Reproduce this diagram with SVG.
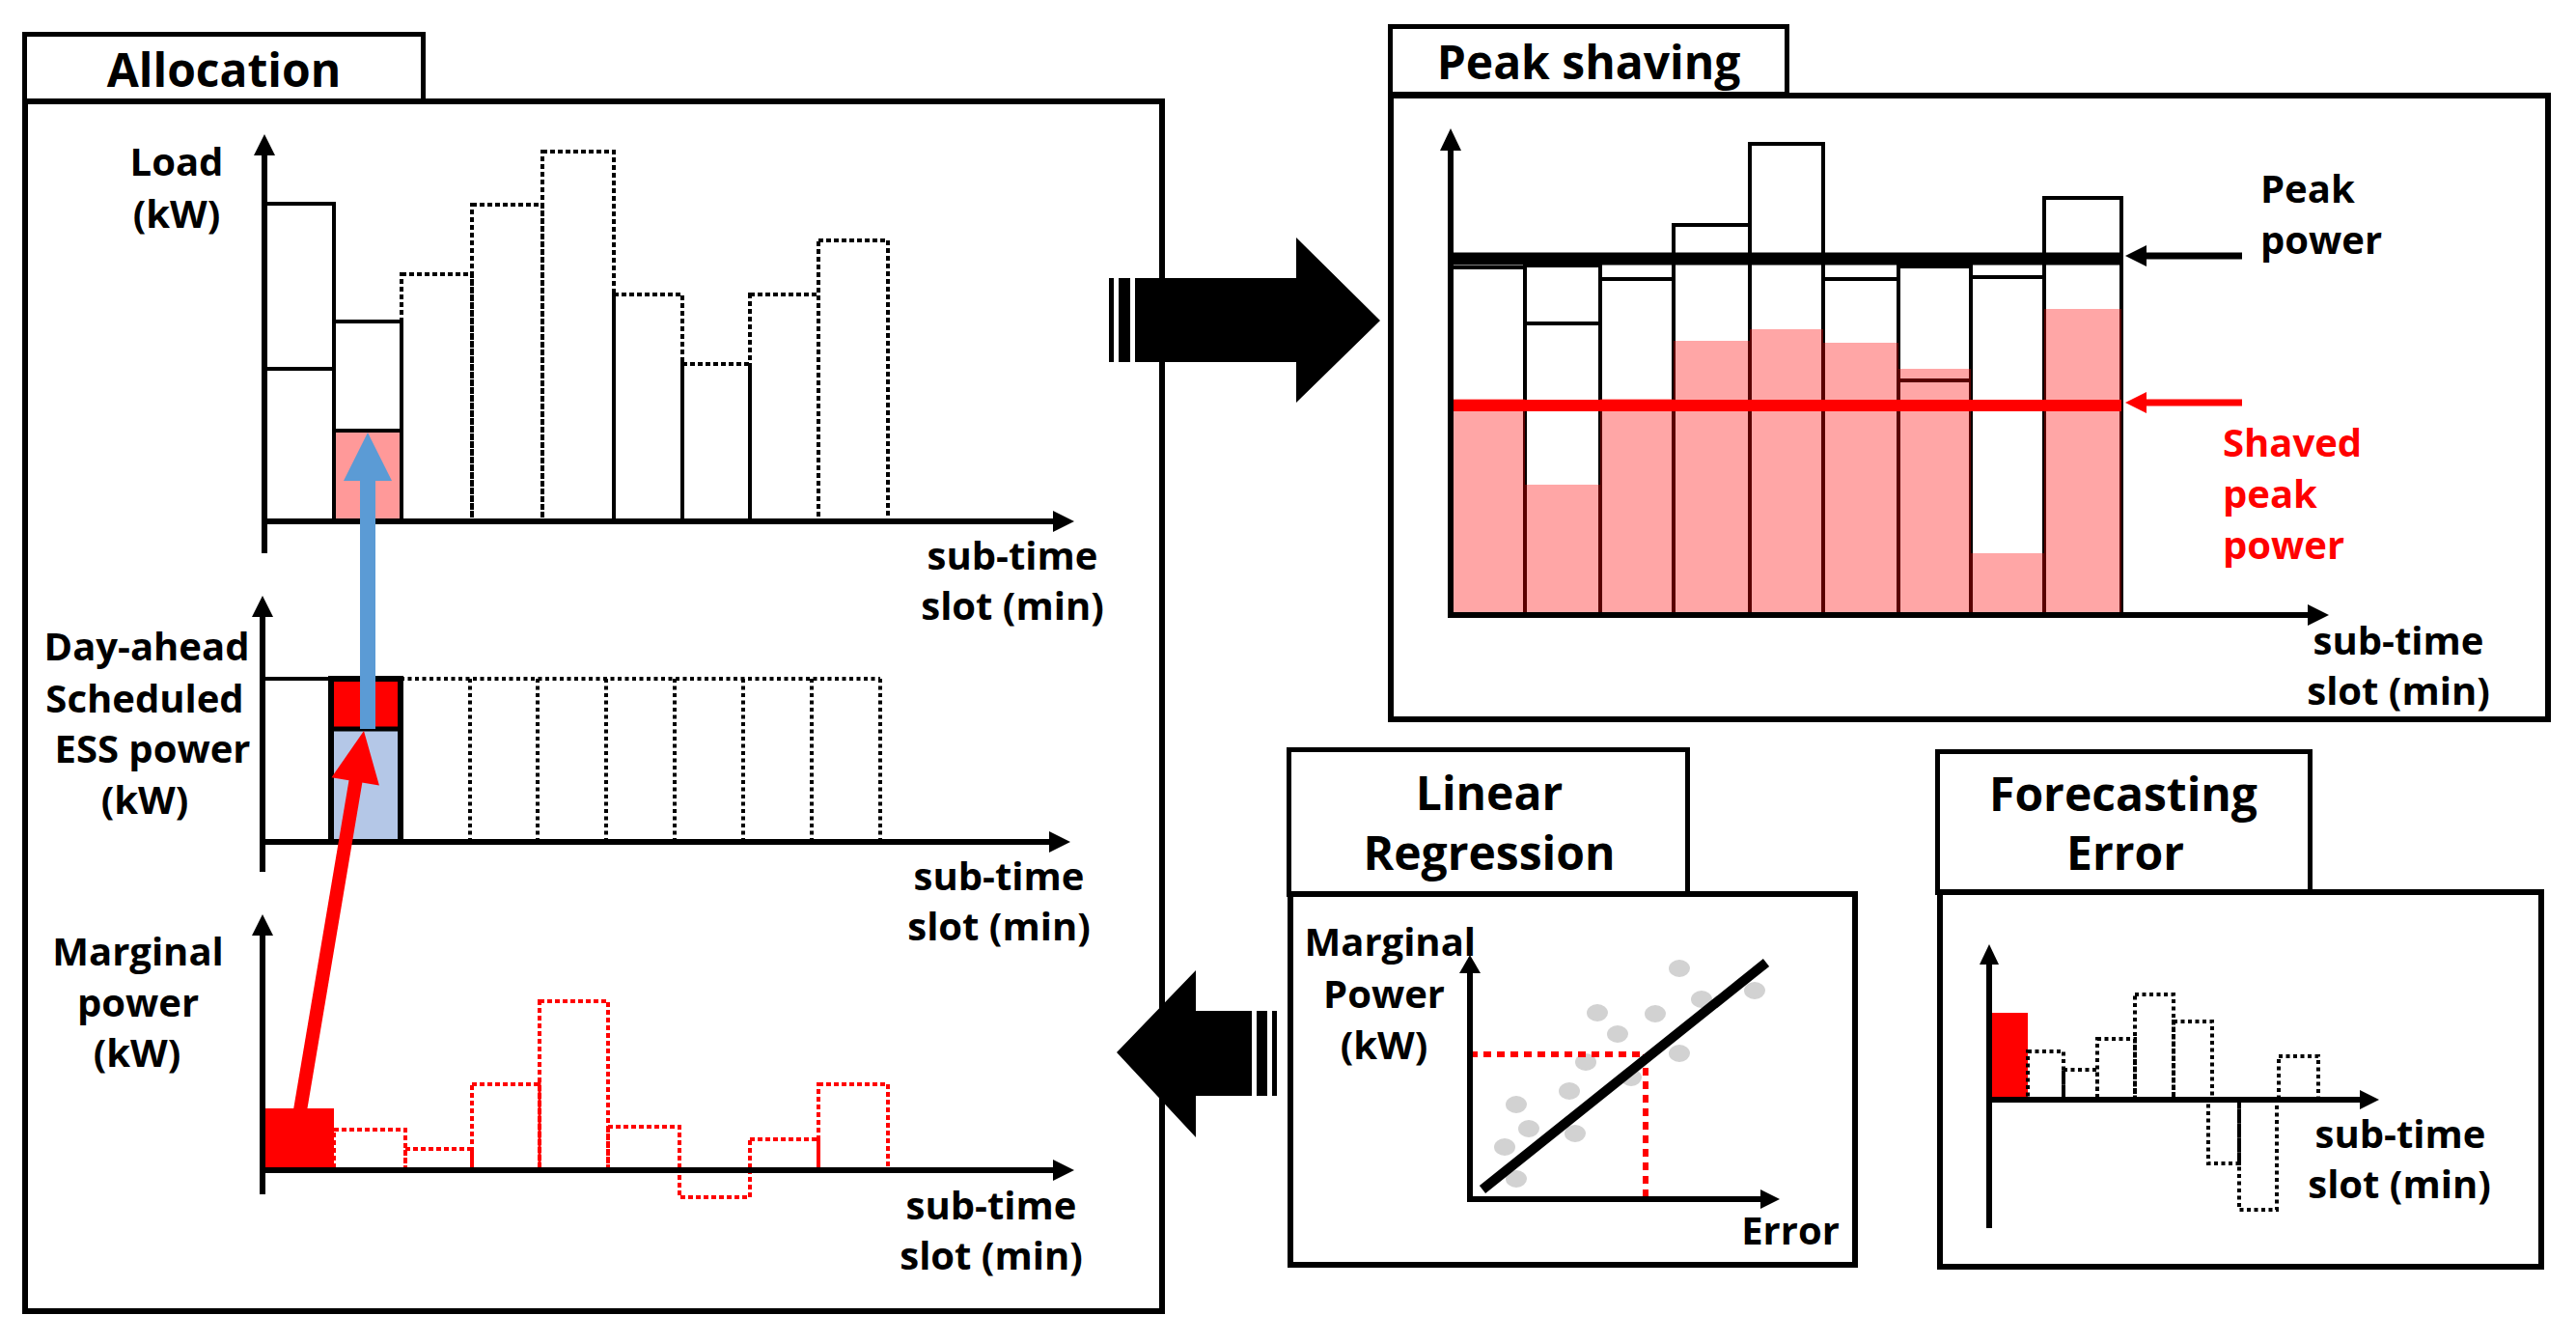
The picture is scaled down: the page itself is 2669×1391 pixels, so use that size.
<svg xmlns="http://www.w3.org/2000/svg" width="2669" height="1391" viewBox="0 0 2669 1391">
<style>
.box{fill:none;stroke:#000;stroke-width:6}
.tab{fill:#fff;stroke:#000;stroke-width:5}
.t{font-family:"Open Sans","Noto Sans","Liberation Sans",sans-serif;font-weight:700;text-anchor:middle;fill:#000}
.s{text-anchor:start}
.red{fill:#f00}
.title{font-size:48px}
.lbl{font-size:40px}
.ax{stroke:#000;stroke-width:6;fill:none}
.bar{fill:none;stroke:#000;stroke-width:4}
.dot{fill:none;stroke:#000;stroke-width:4;stroke-dasharray:5 3}
.dot3{fill:none;stroke:#000;stroke-width:4;stroke-dasharray:4 3.5}
.rdot{fill:none;stroke:#f00;stroke-width:4;stroke-dasharray:5 3}
.ah{fill:#000}
.pink{fill:#f00;fill-opacity:0.35}
.gd{fill:#d2d2d2}
</style>
<rect width="2669" height="1391" fill="#fff"/>

<g id="allocation">
<rect class="tab" x="25.5" y="35.5" width="413" height="70"/>
<text class="t title" x="232" y="90">Allocation</text>
<rect class="box" x="26" y="105" width="1178" height="1253"/>
<!-- Load chart -->
<rect class="bar" x="274" y="211" width="72" height="329"/>
<line class="bar" x1="274" y1="382" x2="346" y2="382"/>
<rect fill="#FF9999" x="346" y="446" width="70" height="94"/>
<rect class="bar" x="346" y="333" width="70" height="207"/>
<line class="bar" x1="346" y1="446" x2="416" y2="446"/>
<rect class="dot" x="416" y="284" width="73" height="256"/>
<rect class="dot" x="489" y="212" width="73" height="328"/>
<rect class="dot" x="562" y="157" width="74" height="383"/>
<rect class="dot" x="636" y="305" width="71" height="235"/>
<rect class="dot" x="707" y="377" width="70" height="163"/>
<rect class="dot" x="777" y="305" width="71" height="235"/>
<rect class="dot" x="848" y="249" width="72" height="291"/>
<line class="ax" x1="274" y1="573" x2="274" y2="158"/>
<polygon class="ah" points="274,139 263,161 285,161"/>
<line class="ax" x1="271" y1="540" x2="1093" y2="540"/>
<polygon class="ah" points="1113,540 1091,529 1091,551"/>
<text class="t lbl" x="183" y="182">Load</text>
<text class="t lbl" x="183" y="236">(kW)</text>
<text class="t lbl" x="1049" y="590">sub-time</text>
<text class="t lbl" x="1049" y="642">slot (min)</text>
<!-- Day-ahead chart -->
<rect fill="#f00" x="343" y="703" width="72" height="52"/>
<rect fill="#B4C7E7" x="343" y="755" width="72" height="117"/>
<line class="bar" x1="272" y1="703" x2="343" y2="703"/>
<path class="dot3" d="M415,703 H912 M487,703 V872 M557,703 V872 M628,703 V872 M699,703 V872 M770,703 V872 M841,703 V872 M912,703 V872"/>
<rect fill="none" stroke="#000" stroke-width="6" x="343" y="703" width="72" height="169"/>
<line stroke="#000" stroke-width="5" x1="343" y1="755" x2="415" y2="755"/>
<line class="ax" x1="272" y1="903" x2="272" y2="636"/>
<polygon class="ah" points="272,617 261,639 283,639"/>
<line class="ax" x1="269" y1="872" x2="1090" y2="872"/>
<polygon class="ah" points="1109,872 1087,861 1087,883"/>
<text class="t lbl" x="152" y="684">Day-ahead</text>
<text class="t lbl" x="150" y="738">Scheduled</text>
<text class="t lbl" x="158" y="790">ESS power</text>
<text class="t lbl" x="150" y="843">(kW)</text>
<text class="t lbl" x="1035" y="922">sub-time</text>
<text class="t lbl" x="1035" y="974">slot (min)</text>
<!-- Marginal power chart -->
<rect fill="#f00" x="272" y="1148" width="74" height="64"/>
<rect class="rdot" x="346" y="1170" width="74" height="42"/>
<rect class="rdot" x="420" y="1190" width="69" height="22"/>
<rect class="rdot" x="489" y="1123" width="70" height="89"/>
<rect class="rdot" x="559" y="1037" width="71" height="175"/>
<rect class="rdot" x="630" y="1167" width="74" height="45"/>
<rect class="rdot" x="704" y="1212" width="73" height="28"/>
<rect class="rdot" x="777" y="1180" width="71" height="32"/>
<rect class="rdot" x="848" y="1123" width="72" height="89"/>
<line x1="559" y1="1118" x2="559" y2="1212" stroke="#f00" stroke-width="3"/>
<line class="ax" x1="272" y1="1237" x2="272" y2="966"/>
<polygon class="ah" points="272,947 261,969 283,969"/>
<line class="ax" x1="269" y1="1212" x2="1094" y2="1212"/>
<polygon class="ah" points="1113,1212 1091,1201 1091,1223"/>
<text class="t lbl" x="143" y="1000">Marginal</text>
<text class="t lbl" x="143" y="1053">power</text>
<text class="t lbl" x="142" y="1105">(kW)</text>
<text class="t lbl" x="1027" y="1263">sub-time</text>
<text class="t lbl" x="1027" y="1315">slot (min)</text>
</g>

<g id="peak-shaving">
<rect class="tab" x="1440.5" y="27.5" width="411" height="70"/>
<text class="t title" x="1646" y="82">Peak shaving</text>
<rect class="box" x="1441" y="99" width="1199" height="646"/>
<rect class="bar" x="1503" y="277" width="77" height="360"/>
<rect class="bar" x="1580" y="275" width="78" height="362"/>
<line class="bar" x1="1580" y1="335" x2="1658" y2="335"/>
<rect class="bar" x="1658" y="289" width="76" height="348"/>
<rect class="bar" x="1734" y="233" width="79" height="404"/>
<rect class="bar" x="1813" y="149" width="76" height="488"/>
<rect class="bar" x="1889" y="289" width="78" height="348"/>
<rect class="bar" x="1967" y="276" width="75" height="361"/>
<line class="bar" x1="1967" y1="394" x2="2042" y2="394"/>
<rect class="bar" x="2042" y="287" width="76" height="350"/>
<rect class="bar" x="2118" y="205" width="80" height="432"/>
<rect class="pink" x="1503" y="413" width="77" height="224"/>
<rect class="pink" x="1580" y="502" width="78" height="135"/>
<rect class="pink" x="1658" y="413" width="76" height="224"/>
<rect class="pink" x="1734" y="353" width="79" height="284"/>
<rect class="pink" x="1813" y="341" width="76" height="296"/>
<rect class="pink" x="1889" y="355" width="78" height="282"/>
<rect class="pink" x="1967" y="382" width="75" height="255"/>
<rect class="pink" x="2042" y="573" width="76" height="64"/>
<rect class="pink" x="2118" y="320" width="80" height="317"/>
<line x1="1503" y1="268" x2="2198" y2="268" stroke="#000" stroke-width="13"/>
<line x1="1503" y1="420" x2="2198" y2="420" stroke="#f00" stroke-width="12"/>
<line class="ax" x1="1503" y1="640" x2="1503" y2="152"/>
<polygon class="ah" points="1503,133 1492,156 1514,156"/>
<line class="ax" x1="1500" y1="637" x2="2395" y2="637"/>
<polygon class="ah" points="2413,637 2391,626 2391,648"/>
<line x1="2323" y1="265" x2="2218" y2="265" stroke="#000" stroke-width="7"/>
<polygon class="ah" points="2202,265 2224,254 2224,276"/>
<line x1="2323" y1="417" x2="2218" y2="417" stroke="#f00" stroke-width="7"/>
<polygon fill="#f00" points="2202,417 2224,406 2224,428"/>
<text class="t lbl s" x="2342" y="210">Peak</text>
<text class="t lbl s" x="2342" y="263">power</text>
<text class="t lbl s red" x="2303" y="473">Shaved</text>
<text class="t lbl s red" x="2303" y="526">peak</text>
<text class="t lbl s red" x="2303" y="579">power</text>
<text class="t lbl" x="2485" y="678">sub-time</text>
<text class="t lbl" x="2485" y="730">slot (min)</text>
</g>

<g id="linear-regression">
<rect class="tab" x="1335.5" y="776.5" width="413" height="150"/>
<text class="t title" x="1543" y="839">Linear</text>
<text class="t title" x="1543" y="901">Regression</text>
<rect class="box" x="1337" y="926" width="585" height="384"/>
<ellipse class="gd" cx="1740" cy="1003" rx="11" ry="9"/>
<ellipse class="gd" cx="1818" cy="1026" rx="11" ry="9"/>
<ellipse class="gd" cx="1763" cy="1035" rx="11" ry="9"/>
<ellipse class="gd" cx="1655" cy="1049" rx="11" ry="9"/>
<ellipse class="gd" cx="1715" cy="1050" rx="11" ry="9"/>
<ellipse class="gd" cx="1676" cy="1071" rx="11" ry="9"/>
<ellipse class="gd" cx="1740" cy="1091" rx="11" ry="9"/>
<ellipse class="gd" cx="1643" cy="1100" rx="11" ry="9"/>
<ellipse class="gd" cx="1690" cy="1116" rx="11" ry="9"/>
<ellipse class="gd" cx="1626" cy="1130" rx="11" ry="9"/>
<ellipse class="gd" cx="1571" cy="1144" rx="11" ry="9"/>
<ellipse class="gd" cx="1584" cy="1169" rx="11" ry="9"/>
<ellipse class="gd" cx="1632" cy="1174" rx="11" ry="9"/>
<ellipse class="gd" cx="1559" cy="1188" rx="11" ry="9"/>
<ellipse class="gd" cx="1571" cy="1221" rx="11" ry="9"/>
<path d="M1523,1092 H1705 V1242" fill="none" stroke="#f00" stroke-width="6" stroke-dasharray="8 6"/>
<line x1="1536" y1="1232" x2="1830" y2="997" stroke="#000" stroke-width="10"/>
<line class="ax" x1="1523" y1="1245" x2="1523" y2="1004"/>
<polygon class="ah" points="1523,989 1512,1008 1534,1008"/>
<line class="ax" x1="1520" y1="1242" x2="1826" y2="1242"/>
<polygon class="ah" points="1844,1242 1824,1232 1824,1252"/>
<text class="t lbl" x="1529" y="990" style="text-anchor:end">Marginal</text>
<text class="t lbl" x="1434" y="1044">Power</text>
<text class="t lbl" x="1434" y="1097">(kW)</text>
<text class="t lbl" x="1855" y="1289">Error</text>
</g>

<g id="forecasting-error">
<rect class="tab" x="2007.5" y="778.5" width="386" height="146"/>
<text class="t title" x="2200" y="840">Forecasting</text>
<text class="t title" x="2202" y="901">Error</text>
<rect class="box" x="2010" y="924" width="623" height="388"/>
<rect fill="#f00" x="2063" y="1049" width="38" height="88"/>
<rect class="dot3" x="2101" y="1089" width="37" height="50"/>
<rect class="dot3" x="2138" y="1108" width="35" height="31"/>
<rect class="dot3" x="2173" y="1076" width="39" height="63"/>
<rect class="dot3" x="2212" y="1030" width="40" height="109"/>
<rect class="dot3" x="2252" y="1058" width="40" height="81"/>
<rect class="dot3" x="2288" y="1139" width="32" height="66"/>
<rect class="dot3" x="2320" y="1139" width="39" height="114"/>
<rect class="dot3" x="2361" y="1094" width="41" height="45"/>
<line class="ax" x1="2061" y1="1272" x2="2061" y2="995"/>
<polygon class="ah" points="2061,978 2051,999 2071,999"/>
<line class="ax" x1="2058" y1="1139" x2="2447" y2="1139"/>
<polygon class="ah" points="2465,1139 2445,1129 2445,1149"/>
<text class="t lbl" x="2487" y="1189">sub-time</text>
<text class="t lbl" x="2486" y="1241">slot (min)</text>
</g>

<g id="connectors">
<rect x="1149" y="288" width="5" height="87"/>
<rect x="1159" y="288" width="12" height="87"/>
<polygon points="1176,288 1343,288 1343,246 1430,332 1343,417 1343,375 1176,375"/>
<polygon points="1157,1090 1239,1005 1239,1047 1297,1047 1297,1135 1239,1135 1239,1178"/>
<rect x="1302" y="1047" width="11" height="88"/>
<rect x="1318" y="1047" width="5" height="88"/>
<line x1="309" y1="1162" x2="369" y2="806" stroke="#f00" stroke-width="14"/>
<polygon fill="#f00" points="377,757 392.9,813.4 343.5,805.2"/>
<line x1="381" y1="755" x2="381" y2="494" stroke="#5B9BD5" stroke-width="16"/>
<polygon fill="#5B9BD5" points="381,448 356,498 406,498"/>
</g>
</svg>
